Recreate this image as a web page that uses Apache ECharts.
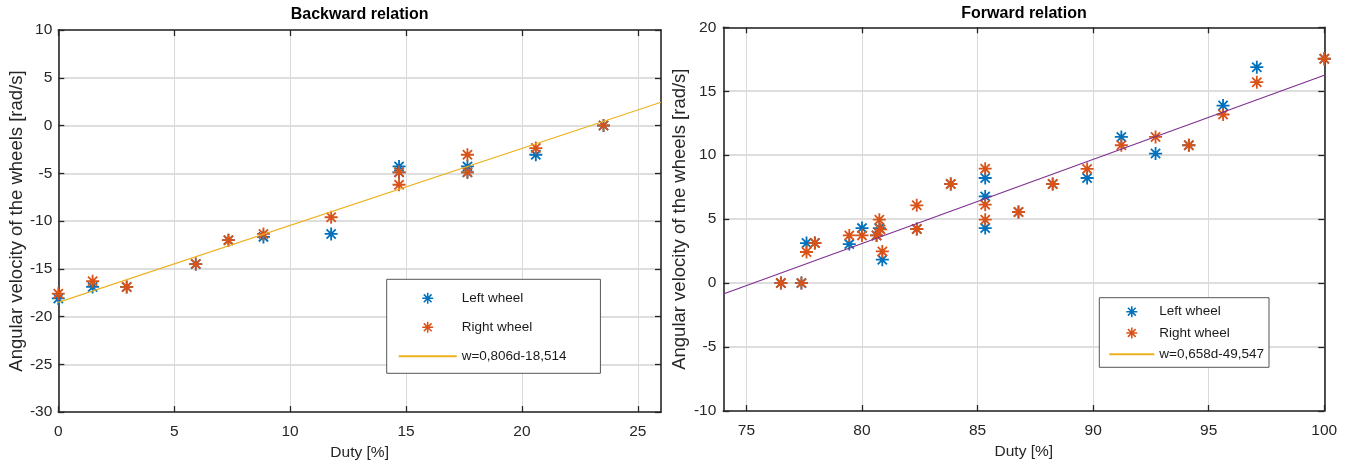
<!DOCTYPE html>
<html>
<head>
<meta charset="utf-8">
<script src="https://cdn.jsdelivr.net/npm/echarts@6/dist/echarts.min.js"></script>
<style>
html,body{margin:0;padding:0;background:#fff;}
#chart{width:1351px;height:466px;}
</style>
</head>
<body>
<div id="chart"></div>
<script>
// ---- Backward relation data ----
const backwardLeftDuty   = [0, 1.48, 2.95, 5.93, 7.34, 8.85, 11.77, 14.7, 14.7, 17.65, 17.65, 20.6, 23.52];
const backwardLeftSpeed  = [-18.1, -16.9, -16.9, -14.5, -12.0, -11.66, -11.35, -4.28, -4.9, -4.28, -4.9, -3.06, 0];
const backwardRightDuty  = [0, 1.48, 2.95, 5.93, 7.34, 8.85, 11.77, 14.7, 14.7, 17.65, 17.65, 20.6, 23.52];
const backwardRightSpeed = [-17.6, -16.3, -16.9, -14.5, -12.0, -11.35, -9.6, -4.9, -6.2, -3.06, -4.9, -2.36, 0];
const backwardFit = {slope: 0.806, intercept: -18.514, from: 0, to: 26, label: 'w=0,806d-18,514'};

// ---- Forward relation data ----
const forwardLeftDuty   = [76.49, 77.38, 77.6, 77.96, 79.45, 80.0, 80.63, 80.75, 80.88, 82.37, 83.84, 85.33, 85.33, 85.33, 86.77, 88.25, 89.74, 91.22, 92.7, 94.14, 95.62, 97.08, 100];
const forwardLeftSpeed  = [0, 0, 3.13, 3.13, 3.05, 4.3, 3.73, 4.3, 1.83, 4.23, 7.75, 8.22, 6.78, 4.3, 5.56, 7.75, 8.22, 11.43, 10.13, 10.78, 13.88, 16.88, 17.54];
const forwardRightDuty  = [76.49, 77.38, 77.6, 77.96, 79.45, 80.0, 80.63, 80.75, 80.8, 80.88, 82.37, 82.37, 83.84, 85.33, 85.33, 85.33, 86.77, 88.25, 89.74, 91.22, 92.7, 94.14, 95.62, 97.08, 100];
const forwardRightSpeed = [0, 0, 2.43, 3.13, 3.73, 3.73, 3.73, 4.96, 4.2, 2.48, 6.08, 4.23, 7.75, 8.95, 6.13, 4.96, 5.56, 7.75, 8.93, 10.78, 11.43, 10.78, 13.18, 15.71, 17.54];
const forwardFit = {slope: 0.658, intercept: -49.547, from: 74, to: 100, label: 'w=0,658d-49,547'};

// ---- Axes ----
const backwardXTicks = [0, 5, 10, 15, 20, 25];
const forwardXTicks  = [75, 80, 85, 90, 95, 100];
const backwardYRange = [-30, 10];
const forwardYRange  = [-10, 20];
const backwardXRange = [0, 26];
const forwardXRange  = [74, 100];

const titles = ['Backward relation', 'Forward relation'];
const xName = 'Duty [%]';
const yName = 'Angular velocity of the wheels [rad/s]';
const seriesNames = ['Left wheel', 'Right wheel'];

const BLUE = '#0072BD', ORANGE = '#D95319', YELLOW = '#EDB120', PURPLE = '#7E2F8E';
const AX = '#262626';
const FONT = 'Liberation Sans, Arial, Helvetica, sans-serif';

const ASTER = 'path://M0,43L100,43L100,57L0,57Z M43,0L57,0L57,100L43,100Z ' +
  'M19.5,9.6L90.4,80.5L80.5,90.4L9.6,19.5Z M80.5,9.6L90.4,19.5L19.5,90.4L9.6,80.5Z';

function zip(a, b) { return a.map((v, i) => [v, b[i]]); }
function fitLine(f) { return [[f.from, f.slope * f.from + f.intercept], [f.to, f.slope * f.to + f.intercept]]; }

const grids = [
  {left: 58.3, top: 30, right: 690, bottom: 53.3},
  {left: 723.3, top: 27.3, right: 26.7, bottom: 55}
];

function xAxes(gi, range, ticks) {
  const common = {
    gridIndex: gi, type: 'value', min: range[0], max: range[1],
    axisLine: {show: true, onZero: false, lineStyle: {color: AX, width: 1.6}},
  };
  return [
    Object.assign({}, common, {
      position: 'bottom',
      axisTick: {show: true, inside: true, length: 6, customValues: ticks, lineStyle: {color: AX, width: 1.3}},
      axisLabel: {show: true, customValues: ticks, margin: 12, color: AX, fontSize: 15.5, fontFamily: FONT},
      splitLine: {show: true, lineStyle: {color: '#dadada', width: 1}},
      name: xName, nameLocation: 'middle', nameGap: 32,
      nameTextStyle: {color: AX, fontSize: 15.5, fontFamily: FONT}
    }),
    Object.assign({}, common, {
      position: 'top',
      axisTick: {show: true, inside: true, length: 6, customValues: ticks, lineStyle: {color: AX, width: 1.3}},
      axisLabel: {show: false},
      splitLine: {show: false}
    })
  ];
}
function yAxes(gi, range, nameGap, labelMargin) {
  const common = {
    gridIndex: gi, type: 'value', min: range[0], max: range[1], interval: 5,
    axisLine: {show: true, onZero: false, lineStyle: {color: AX, width: 1.6}},
  };
  return [
    Object.assign({}, common, {
      position: 'left',
      axisTick: {show: true, inside: true, length: 6, lineStyle: {color: AX, width: 1.3}},
      axisLabel: {show: true, margin: labelMargin, color: AX, fontSize: 15.5, fontFamily: FONT},
      splitLine: {show: true, lineStyle: {color: '#dedede', width: 2}},
      name: yName, nameLocation: 'middle', nameGap: nameGap,
      nameTextStyle: {color: AX, fontSize: 18.5, fontFamily: FONT}
    }),
    Object.assign({}, common, {
      position: 'right',
      axisTick: {show: true, inside: true, length: 6, lineStyle: {color: AX, width: 1.3}},
      axisLabel: {show: false},
      splitLine: {show: false}
    })
  ];
}

function scatter(name, xi, yi, data, color) {
  return {
    type: 'scatter', name, xAxisIndex: xi, yAxisIndex: yi, data,
    symbol: ASTER, symbolSize: 13, itemStyle: {color, opacity: 1},
    emphasis: {disabled: true}
  };
}
function line(name, xi, yi, data, color) {
  return {
    type: 'line', name, xAxisIndex: xi, yAxisIndex: yi, data,
    symbol: 'none', showSymbol: false, lineStyle: {color, width: 1.1},
    itemStyle: {color}, emphasis: {disabled: true}, z: 3
  };
}

const legendText = {color: '#1a1a1a', fontSize: 13.5, fontFamily: FONT, lineHeight: 16};
function fitLegendItem(label) {
  return {name: label, lineStyle: {color: YELLOW, width: 2}, itemStyle: {opacity: 0, color: 'rgba(0,0,0,0)', borderWidth: 0}};
}

const option = {
  animation: false,
  backgroundColor: '#ffffff',
  title: [
    {text: titles[0], left: 359.6, top: 7, textAlign: 'center', padding: 0,
     textStyle: {fontSize: 16, fontWeight: 'bold', color: '#000', fontFamily: FONT}},
    {text: titles[1], left: 1024, top: 6, textAlign: 'center', padding: 0,
     textStyle: {fontSize: 16, fontWeight: 'bold', color: '#000', fontFamily: FONT}}
  ],
  grid: grids,
  xAxis: [].concat(xAxes(0, backwardXRange, backwardXTicks), xAxes(1, forwardXRange, forwardXTicks)),
  yAxis: [].concat(yAxes(0, backwardYRange, 29, 6), yAxes(1, forwardYRange, 34, 7)),
  legend: [
    {
      orient: 'vertical', left: 386.7, top: 279.3,
      itemWidth: 58, itemHeight: 11, itemGap: 13,
      padding: [11, 34, 9, 11],
      backgroundColor: '#fff', borderColor: '#555', borderWidth: 1,
      textStyle: legendText, selectedMode: false,
      data: [seriesNames[0], seriesNames[1], fitLegendItem(backwardFit.label)]
    },
    {
      orient: 'vertical', left: 1099.3, top: 297.7,
      itemWidth: 45, itemHeight: 11, itemGap: 5.3,
      padding: [6, 5, 5, 9],
      backgroundColor: '#fff', borderColor: '#555', borderWidth: 1,
      textStyle: legendText, selectedMode: false,
      data: [seriesNames[0], seriesNames[1], fitLegendItem(forwardFit.label)]
    }
  ],
  series: [
    scatter(seriesNames[0], 0, 0, zip(backwardLeftDuty, backwardLeftSpeed), BLUE),
    scatter(seriesNames[1], 0, 0, zip(backwardRightDuty, backwardRightSpeed), ORANGE),
    line(backwardFit.label, 0, 0, fitLine(backwardFit), YELLOW),
    scatter(seriesNames[0], 2, 2, zip(forwardLeftDuty, forwardLeftSpeed), BLUE),
    scatter(seriesNames[1], 2, 2, zip(forwardRightDuty, forwardRightSpeed), ORANGE),
    line(forwardFit.label, 2, 2, fitLine(forwardFit), PURPLE)
  ]
};

const chart = echarts.init(document.getElementById('chart'), null, {renderer: 'canvas'});
chart.setOption(option);
</script>
</body>
</html>
